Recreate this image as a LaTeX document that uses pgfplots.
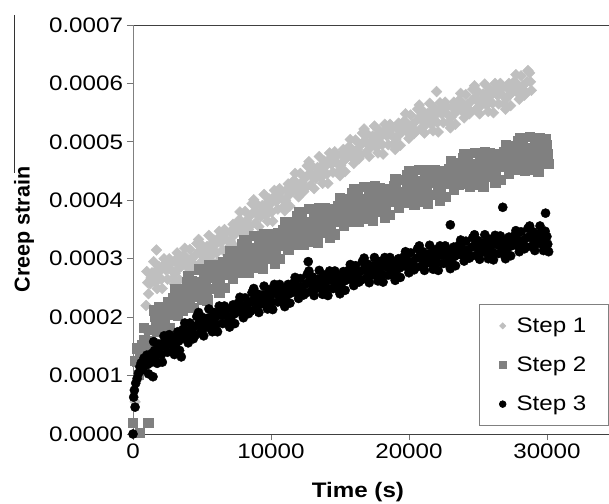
\documentclass[border=0pt]{standalone}
\usepackage{fontspec}
\setmainfont{Liberation Sans}
\usepackage{pgfplots}
\usepackage{pgfplotstable}
\pgfplotsset{compat=1.18}
\definecolor{stepone}{RGB}{191,191,191}
\definecolor{steptwo}{RGB}{128,128,128}
\definecolor{stepthree}{RGB}{0,0,0}

% creep strain in units of 1e-4, three readings per row: (t,a) (tt,b) (tc,c)
\pgfplotstableread{
t a tt b tc c
1000 2.78 1125 2.40 1060 2.59
1250 2.57 1375 2.76 1310 2.67
1500 2.95 1625 2.59 1560 2.77
1750 2.49 1875 2.87 1810 2.68
2000 2.80 2125 2.49 2060 2.65
2250 3.00 2375 2.81 2310 2.91
2500 2.65 2625 3.00 2560 2.83
2750 2.93 2875 2.66 2810 2.80
3000 2.57 3125 2.93 3060 2.75
3250 3.02 3375 2.64 3310 2.83
3500 2.87 3625 3.05 3560 2.96
3750 3.18 3875 2.87 3810 3.03
4000 2.76 4125 3.16 4060 2.96
4250 3.00 4375 2.84 4310 2.92
4500 2.88 4625 3.26 4560 3.07
4750 3.33 4875 2.93 4810 3.13
5000 3.23 5125 2.85 5060 3.04
5250 3.02 5375 3.21 5310 3.12
5500 3.40 5625 3.04 5560 3.22
5750 2.94 5875 3.32 5810 3.13
6000 3.25 6125 2.94 6060 3.10
6250 3.47 6375 3.28 6310 3.38
6500 3.15 6625 3.50 6560 3.33
6750 3.45 6875 3.18 6810 3.32
7000 3.12 7125 3.48 7060 3.30
7250 3.59 7375 3.21 7310 3.40
7500 3.47 7625 3.65 7560 3.56
7750 3.80 7875 3.49 7810 3.65
8000 3.41 8125 3.81 8060 3.61
8250 3.66 8375 3.50 8310 3.58
8500 3.56 8625 3.94 8560 3.75
8750 4.01 8875 3.61 8810 3.81
9000 3.93 9125 3.55 9060 3.74
9250 3.72 9375 3.91 9310 3.82
9500 4.10 9625 3.74 9560 3.92
9750 3.64 9875 4.02 9810 3.83
10000 3.95 10125 3.64 10060 3.80
10250 4.17 10375 3.98 10310 4.08
10500 3.85 10625 4.20 10560 4.03
10750 4.15 10875 3.88 10810 4.02
11000 3.82 11125 4.18 11060 4.00
11250 4.28 11375 3.90 11310 4.09
11500 4.15 11625 4.33 11560 4.24
11750 4.46 11875 4.15 11810 4.31
12000 4.06 12125 4.46 12060 4.26
12250 4.31 12375 4.15 12310 4.23
12500 4.21 12625 4.59 12560 4.40
12750 4.66 12875 4.26 12810 4.46
13000 4.58 13125 4.20 13060 4.39
13250 4.37 13375 4.56 13310 4.47
13500 4.75 13625 4.39 13560 4.57
13750 4.29 13875 4.67 13810 4.48
14000 4.60 14125 4.29 14060 4.45
14250 4.81 14375 4.62 14310 4.72
14500 4.48 14625 4.83 14560 4.66
14750 4.76 14875 4.49 14810 4.63
15000 4.42 15125 4.78 15060 4.60
15250 4.87 15375 4.49 15310 4.68
15500 4.73 15625 4.91 15560 4.82
15750 5.04 15875 4.73 15810 4.89
16000 4.63 16125 5.03 16060 4.83
16250 4.87 16375 4.71 16310 4.79
16500 4.77 16625 5.15 16560 4.96
16750 5.22 16875 4.82 16810 5.02
17000 5.13 17125 4.75 17060 4.94
17250 4.91 17375 5.10 17310 5.01
17500 5.27 17625 4.91 17560 5.09
17750 4.81 17875 5.19 17810 5.00
18000 5.10 18125 4.79 18060 4.95
18250 5.30 18375 5.11 18310 5.21
18500 4.95 18625 5.30 18560 5.13
18750 5.23 18875 4.96 18810 5.10
19000 4.87 19125 5.23 19060 5.05
19250 5.32 19375 4.94 19310 5.13
19500 5.17 19625 5.35 19560 5.26
19750 5.48 19875 5.17 19810 5.33
20000 5.06 20125 5.46 20060 5.26
20250 5.30 20375 5.14 20310 5.22
20500 5.18 20625 5.56 20560 5.37
20750 5.63 20875 5.23 20810 5.43
21000 5.53 21125 5.15 21060 5.34
21250 5.30 21375 5.49 21310 5.40
21500 5.66 21625 5.30 21560 5.48
21750 5.19 21875 5.57 21810 5.38
22000 5.48 22125 5.17 22060 5.33
22250 5.67 22375 5.48 22310 5.58
22500 5.33 22625 5.68 22560 5.51
22750 5.60 22875 5.33 22810 5.47
23000 5.24 23125 5.60 23060 5.42
23250 5.68 23375 5.30 23310 5.49
23500 5.53 23625 5.71 23560 5.62
23750 5.83 23875 5.52 23810 5.68
24000 5.41 24125 5.81 24060 5.61
24250 5.64 24375 5.48 24310 5.56
24500 5.52 24625 5.90 24560 5.71
24750 5.96 24875 5.56 24810 5.76
25000 5.86 25125 5.48 25060 5.67
25250 5.63 25375 5.82 25310 5.73
25500 5.99 25625 5.63 25560 5.81
25750 5.52 25875 5.90 25810 5.71
26000 5.81 26125 5.50 26060 5.66
26250 6.00 26375 5.81 26310 5.91
26500 5.65 26625 6.00 26560 5.83
26750 5.92 26875 5.65 26810 5.79
27000 5.56 27125 5.92 27060 5.74
27250 6.00 27375 5.62 27310 5.81
27500 5.85 27625 6.03 27560 5.94
27750 6.15 27875 5.84 27810 6.00
28000 5.73 28125 6.13 28060 5.93
28250 5.96 28375 5.80 28310 5.88
28500 5.84 28625 6.22 28560 6.03
28750 6.18 28875 5.88 28810 6.03
}\stepA

\pgfplotstableread{
t a tt b tc c
250 1.47 375 1.01 310 1.24
500 1.28 625 1.52 560 1.40
750 1.82 875 1.39 810 1.61
1000 1.35 1125 1.79 1060 1.57
1250 1.78 1375 1.42 1310 1.60
1500 2.12 1625 1.89 1560 2.01
1750 1.75 1875 2.17 1810 1.96
2000 2.12 2125 1.80 2060 1.96
2250 1.73 2375 2.14 2310 1.94
2500 2.26 2625 1.82 2560 2.04
2750 2.11 2875 2.33 2810 2.22
3000 2.49 3125 2.13 3060 2.31
3250 2.02 3375 2.49 3310 2.26
3500 2.31 3625 2.12 3560 2.22
3750 2.17 3875 2.61 3810 2.39
4000 2.70 4125 2.23 4060 2.47
4250 2.62 4375 2.16 4310 2.39
4500 2.35 4625 2.59 4560 2.47
4750 2.82 4875 2.39 4810 2.61
5000 2.30 5125 2.74 5060 2.52
5250 2.65 5375 2.29 5310 2.47
5500 2.90 5625 2.67 5560 2.79
5750 2.48 5875 2.90 5810 2.69
6000 2.82 6125 2.50 6060 2.66
6250 2.42 6375 2.83 6310 2.63
6500 2.94 6625 2.50 6560 2.72
6750 2.77 6875 2.99 6810 2.88
7000 3.14 7125 2.78 7060 2.96
7250 2.66 7375 3.13 7310 2.90
7500 2.95 7625 2.76 7560 2.86
7750 2.81 7875 3.25 7810 3.03
8000 3.33 8125 2.86 8060 3.10
8250 3.23 8375 2.77 8310 3.00
8500 2.94 8625 3.18 8560 3.06
8750 3.39 8875 2.96 8810 3.18
9000 2.85 9125 3.29 9060 3.07
9250 3.19 9375 2.83 9310 3.01
9500 3.42 9625 3.19 9560 3.31
9750 3.00 9875 3.42 9810 3.21
10000 3.32 10125 3.00 10060 3.16
10250 2.92 10375 3.33 10310 3.13
10500 3.44 10625 3.00 10560 3.22
10750 3.27 10875 3.49 10810 3.38
11000 3.64 11125 3.28 11060 3.46
11250 3.16 11375 3.63 11310 3.40
11500 3.43 11625 3.24 11560 3.34
11750 3.29 11875 3.73 11810 3.51
12000 3.80 12125 3.33 12060 3.57
12250 3.70 12375 3.24 12310 3.47
12500 3.40 12625 3.64 12560 3.52
12750 3.85 12875 3.42 12810 3.64
13000 3.30 13125 3.74 13060 3.52
13250 3.64 13375 3.28 13310 3.46
13500 3.87 13625 3.64 13560 3.76
13750 3.45 13875 3.87 13810 3.66
14000 3.77 14125 3.45 14060 3.61
14250 3.36 14375 3.77 14310 3.57
14500 3.86 14625 3.42 14560 3.64
14750 3.69 14875 3.91 14810 3.80
15000 4.04 15125 3.68 15060 3.86
15250 3.56 15375 4.03 15310 3.80
15500 3.83 15625 3.64 15560 3.74
15750 3.69 15875 4.13 15810 3.91
16000 4.20 16125 3.73 16060 3.97
16250 4.09 16375 3.63 16310 3.86
16500 3.79 16625 4.03 16560 3.91
16750 4.23 16875 3.80 16810 4.02
17000 3.68 17125 4.12 17060 3.90
17250 4.01 17375 3.65 17310 3.83
17500 4.24 17625 4.01 17560 4.13
17750 3.80 17875 4.22 17810 4.01
18000 4.12 18125 3.80 18060 3.96
18250 3.70 18375 4.11 18310 3.91
18500 4.20 18625 3.76 18560 3.98
18750 4.02 18875 4.24 18810 4.13
19000 4.37 19125 4.01 19060 4.19
19250 3.88 19375 4.35 19310 4.12
19500 4.15 19625 3.96 19560 4.06
19750 3.99 19875 4.43 19810 4.21
20000 4.50 20125 4.03 20060 4.27
20250 4.39 20375 3.93 20310 4.16
20500 4.09 20625 4.33 20560 4.21
20750 4.52 20875 4.09 20810 4.31
21000 3.97 21125 4.41 21060 4.19
21250 4.30 21375 3.94 21310 4.12
21500 4.53 21625 4.30 21560 4.42
21750 4.10 21875 4.52 21810 4.31
22000 4.42 22125 4.10 22060 4.26
22250 4.00 22375 4.41 22310 4.21
22500 4.50 22625 4.06 22560 4.28
22750 4.32 22875 4.54 22810 4.43
23000 4.67 23125 4.31 23060 4.49
23250 4.18 23375 4.65 23310 4.42
23500 4.45 23625 4.26 23560 4.36
23750 4.29 23875 4.73 23810 4.51
24000 4.80 24125 4.33 24060 4.57
24250 4.69 24375 4.23 24310 4.46
24500 4.39 24625 4.63 24560 4.51
24750 4.82 24875 4.39 24810 4.61
25000 4.27 25125 4.71 25060 4.49
25250 4.60 25375 4.24 25310 4.42
25500 4.83 25625 4.60 25560 4.72
25750 4.40 25875 4.82 25810 4.61
26000 4.72 26125 4.40 26060 4.56
26250 4.30 26375 4.71 26310 4.51
26500 4.79 26625 4.35 26560 4.57
26750 4.61 26875 4.83 26810 4.72
27000 4.95 27125 4.59 27060 4.77
27250 4.46 27375 4.93 27310 4.70
27500 4.72 27625 4.53 27560 4.63
27750 4.57 27875 5.01 27810 4.79
28000 5.07 28125 4.60 28060 4.84
28250 4.96 28375 4.50 28310 4.73
28500 4.65 28625 4.89 28560 4.77
28750 5.09 28875 4.66 28810 4.88
29000 4.53 29125 4.97 29060 4.75
29250 4.85 29375 4.49 29310 4.67
29500 5.07 29625 4.84 29560 4.96
29750 4.64 29875 5.06 29810 4.85
30000 4.95 30125 4.63 30060 4.79
}\stepB

\pgfplotstableread{
t a tt b tc c
1000 1.35 1125 1.03 1060 1.19
1250 1.22 1375 1.38 1310 1.30
1500 1.58 1625 1.27 1560 1.43
1750 1.21 1875 1.54 1810 1.38
2000 1.49 2125 1.23 2060 1.36
2250 1.68 2375 1.52 2310 1.60
2500 1.40 2625 1.70 2560 1.55
2750 1.65 2875 1.41 2810 1.53
3000 1.36 3125 1.67 3060 1.52
3250 1.75 3375 1.43 3310 1.59
3500 1.63 3625 1.79 3560 1.71
3750 1.90 3875 1.64 3810 1.77
4000 1.56 4125 1.90 4060 1.73
4250 1.77 4375 1.63 4310 1.70
4500 1.69 4625 2.01 4560 1.85
4750 2.08 4875 1.73 4810 1.91
5000 2.00 5125 1.68 5060 1.84
5250 1.82 5375 1.98 5310 1.90
5500 2.14 5625 1.83 5560 1.99
5750 1.75 5875 2.08 5810 1.92
6000 2.01 6125 1.75 6060 1.88
6250 2.19 6375 2.03 6310 2.11
6500 1.89 6625 2.19 6560 2.04
6750 2.14 6875 1.90 6810 2.02
7000 1.83 7125 2.14 7060 1.99
7250 2.21 7375 1.89 7310 2.05
7500 2.08 7625 2.24 7560 2.16
7750 2.34 7875 2.08 7810 2.21
8000 1.99 8125 2.33 8060 2.16
8250 2.20 8375 2.06 8310 2.13
8500 2.10 8625 2.42 8560 2.26
8750 2.49 8875 2.14 8810 2.32
9000 2.40 9125 2.08 9060 2.24
9250 2.22 9375 2.38 9310 2.30
9500 2.53 9625 2.22 9560 2.38
9750 2.14 9875 2.47 9810 2.31
10000 2.39 10125 2.13 10060 2.26
10250 2.56 10375 2.40 10310 2.48
10500 2.26 10625 2.56 10560 2.41
10750 2.49 10875 2.25 10810 2.37
11000 2.18 11125 2.49 11060 2.34
11250 2.56 11375 2.24 11310 2.40
11500 2.42 11625 2.58 11560 2.50
11750 2.68 11875 2.42 11810 2.55
12000 2.32 12125 2.66 12060 2.49
12250 2.52 12375 2.38 12310 2.45
12500 2.41 12625 2.73 12560 2.57
12750 2.79 12875 2.44 12810 2.62
13000 2.69 13125 2.37 13060 2.53
13250 2.49 13375 2.65 13310 2.57
13500 2.80 13625 2.49 13560 2.65
13750 2.39 13875 2.72 13810 2.56
14000 2.63 14125 2.37 14060 2.50
14250 2.79 14375 2.63 14310 2.71
14500 2.49 14625 2.79 14560 2.64
14750 2.72 14875 2.48 14810 2.60
15000 2.40 15125 2.71 15060 2.56
15250 2.78 15375 2.46 15310 2.62
15500 2.64 15625 2.80 15560 2.72
15750 2.90 15875 2.64 15810 2.77
16000 2.54 16125 2.88 16060 2.71
16250 2.74 16375 2.60 16310 2.67
16500 2.63 16625 2.95 16560 2.79
16750 3.01 16875 2.66 16810 2.84
17000 2.91 17125 2.59 17060 2.75
17250 2.72 17375 2.88 17310 2.80
17500 3.02 17625 2.71 17560 2.87
17750 2.62 17875 2.95 17810 2.79
18000 2.86 18125 2.60 18060 2.73
18250 3.02 18375 2.86 18310 2.94
18500 2.72 18625 3.02 18560 2.87
18750 2.95 18875 2.71 18810 2.83
19000 2.63 19125 2.94 19060 2.79
19250 3.00 19375 2.68 19310 2.84
19500 2.87 19625 3.03 19560 2.95
19750 3.12 19875 2.86 19810 2.99
20000 2.76 20125 3.10 20060 2.93
20250 2.95 20375 2.81 20310 2.88
20500 2.85 20625 3.17 20560 3.01
20750 3.22 20875 2.87 20810 3.05
21000 3.12 21125 2.80 21060 2.96
21250 2.92 21375 3.08 21310 3.00
21500 3.23 21625 2.92 21560 3.08
21750 2.82 21875 3.15 21810 2.99
22000 3.06 22125 2.80 22060 2.93
22250 3.22 22375 3.06 22310 3.14
22500 2.92 22625 3.22 22560 3.07
22750 3.15 22875 2.91 22810 3.03
23000 2.83 23125 3.14 23060 2.99
23250 3.20 23375 2.88 23310 3.04
23500 3.07 23625 3.23 23560 3.15
23750 3.32 23875 3.06 23810 3.19
24000 2.96 24125 3.30 24060 3.13
24250 3.15 24375 3.01 24310 3.08
24500 3.04 24625 3.36 24560 3.20
24750 3.41 24875 3.06 24810 3.24
25000 3.31 25125 2.99 25060 3.15
25250 3.11 25375 3.27 25310 3.19
25500 3.41 25625 3.10 25560 3.26
25750 3.00 25875 3.33 25810 3.17
26000 3.24 26125 2.98 26060 3.11
26250 3.40 26375 3.24 26310 3.32
26500 3.09 26625 3.39 26560 3.24
26750 3.32 26875 3.08 26810 3.20
27000 3.00 27125 3.31 27060 3.16
27250 3.37 27375 3.05 27310 3.21
27500 3.23 27625 3.39 27560 3.31
27750 3.48 27875 3.22 27810 3.35
28000 3.12 28125 3.46 28060 3.29
28250 3.31 28375 3.17 28310 3.24
28500 3.20 28625 3.52 28560 3.36
28750 3.56 28875 3.21 28810 3.39
29000 3.46 29125 3.14 29060 3.30
29250 3.26 29375 3.42 29310 3.34
29500 3.56 29625 3.25 29560 3.41
29750 3.14 29875 3.47 29810 3.31
30000 3.38 30125 3.12 30060 3.25
}\stepC

\pgfplotsset{
  s1/.style={only marks, mark=square*, mark size=3.8bp, mark options={rotate=45, draw=stepone, fill=stepone}, forget plot},
  s2/.style={only marks, mark=square*, mark size=4.6bp, mark options={draw=steptwo, fill=steptwo}, forget plot},
  s3/.style={only marks, mark=*, mark size=4.6bp, mark options={draw=stepthree, fill=stepthree}, forget plot},
}

\begin{document}
\begin{tikzpicture}
\begin{axis}[
  name=ax, at={(0,0)}, anchor=south west,
  scale only axis, width=476bp, height=409bp,
  xmin=0, xmax=34500, ymin=0, ymax=0.0007,
  axis x line*=box, axis y line*=left,
  x axis line style={-, black!75, line width=0.8bp},
  y axis line style={-, black!50, line width=0.8bp},
  xtick={0,10000,20000,30000},
  ytick={0,0.0001,0.0002,0.0003,0.0004,0.0005,0.0006,0.0007},
  xtick pos=left, ytick pos=left,
  tick align=outside, major tick length=6bp,
  major tick style={black!55, line width=0.8bp},
  scaled x ticks=false, scaled y ticks=false,
  xticklabel style={/pgf/number format/set thousands separator={}},
  yticklabel style={/pgf/number format/fixed, /pgf/number format/fixed zerofill, /pgf/number format/precision=4},
  /pgf/number format/assume math mode=true,
  tick label style={font=\fontsize{21bp}{25bp}\selectfont, black, xscale=1.15},
  xlabel={Time (s)}, ylabel={Creep strain},
  every axis x label/.style={at={(axis description cs:0.4725,0)}, yshift=-58bp, anchor=center, xscale=1.15,
    font=\bfseries\fontsize{21bp}{25bp}\selectfont},
  every axis y label/.style={at={(axis description cs:0,0.5)}, xshift=-109bp, rotate=90, anchor=center,
    font=\bfseries\fontsize{21.5bp}{25bp}\selectfont},
  clip=false,
  legend style={at={(1,0)}, anchor=south east, yshift=8bp, draw=black!50, line width=0.6bp,
    fill=white, inner xsep=20bp, inner ysep=11.5bp, row sep=19bp,
    font=\fontsize{21bp}{25bp}\selectfont,
    nodes={xscale=1.15},
    /tikz/every odd column/.append style={column sep=8bp}},
  legend cell align=left,
]
% Step 1
\addplot[s1] coordinates {(150,0.55e-4) (400,0.95e-4) (650,1.40e-4) (850,1.80e-4) (950,2.20e-4)
  (1700,3.15e-4) (3200,3.10e-4) (22000,5.86e-4)};
\addplot[s1] table[x=t, y expr=\thisrow{a}*1e-4] {\stepA};
\addplot[s1] table[x=tt, y expr=\thisrow{b}*1e-4] {\stepA};
\addplot[s1] table[x=tc, y expr=\thisrow{c}*1e-4] {\stepA};
% Step 2
\addplot[s2] coordinates {(0,0.19e-4) (500,0.02e-4) (1100,0.19e-4) (150,1.25e-4)};
\addplot[s2] table[x=t, y expr=\thisrow{a}*1e-4] {\stepB};
\addplot[s2] table[x=tt, y expr=\thisrow{b}*1e-4] {\stepB};
\addplot[s2] table[x=tc, y expr=\thisrow{c}*1e-4] {\stepB};
% Step 3
\addplot[s3] coordinates {(0,0) (50,0.63e-4) (100,0.75e-4) (150,0.46e-4) (200,0.87e-4) (300,0.95e-4) (400,1.04e-4)
  (500,1.15e-4) (600,1.22e-4) (700,1.10e-4) (800,1.30e-4) (900,1.18e-4) (1450,0.98e-4) (3500,1.32e-4)
  (12700,2.95e-4) (23000,3.58e-4) (26800,3.88e-4) (29900,3.78e-4)};
\addplot[s3] table[x=t, y expr=\thisrow{a}*1e-4] {\stepC};
\addplot[s3] table[x=tt, y expr=\thisrow{b}*1e-4] {\stepC};
\addplot[s3] table[x=tc, y expr=\thisrow{c}*1e-4] {\stepC};
% legend
\addlegendimage{only marks, mark=square*, mark size=2.2bp, mark options={rotate=45, draw=stepone, fill=stepone}}
\addlegendentry{Step 1}
\addlegendimage{only marks, mark=square*, mark size=3.6bp, mark options={draw=steptwo, fill=steptwo}}
\addlegendentry{Step 2}
\addlegendimage{only marks, mark=*, mark size=3.4bp, mark options={draw=stepthree, fill=stepthree}}
\addlegendentry{Step 3}
\end{axis}
\draw[black!80, line width=0.9bp] ([xshift=-119bp,yshift=10bp]ax.north west) -- ([xshift=-119bp,yshift=-148bp]ax.north west);
\pgfresetboundingbox
\path ([xshift=-133bp,yshift=-70bp]ax.south west) rectangle ([yshift=25bp]ax.north east);
\end{tikzpicture}
\end{document}
